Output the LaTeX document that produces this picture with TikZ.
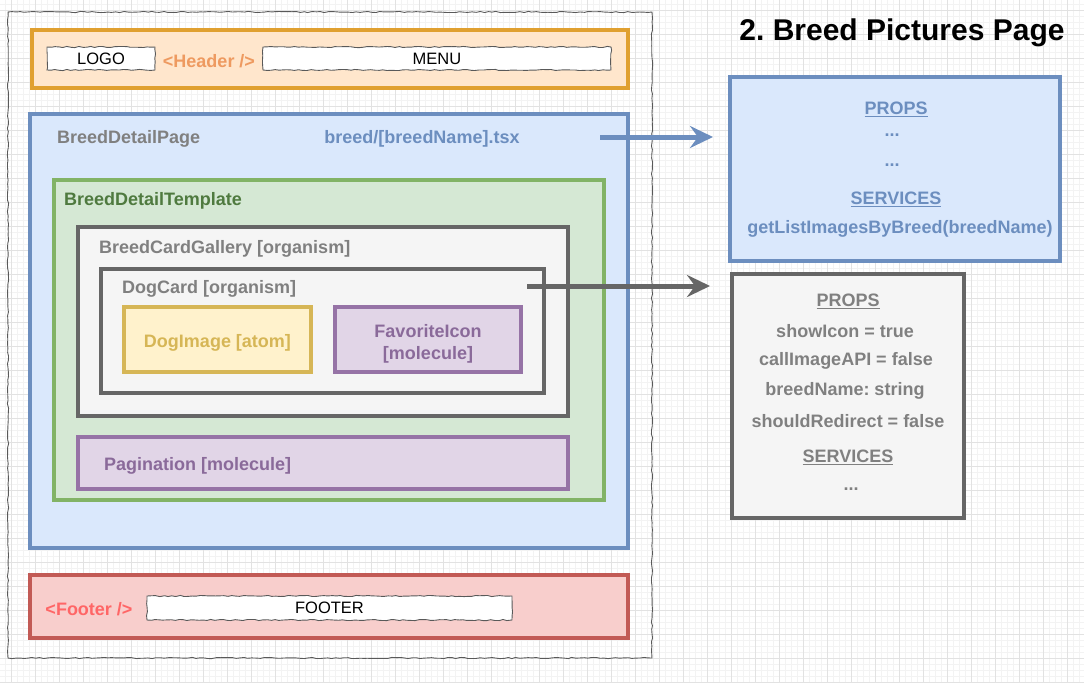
\documentclass[tikz,border=0pt]{standalone}
\usepackage{fontspec}
\setmainfont{Liberation Sans}
\frenchspacing
\usetikzlibrary{arrows.meta,positioning,decorations.pathmorphing}
\definecolor{gridmin}{HTML}{F3F3F3}
\definecolor{gridmaj}{HTML}{E2E2E2}
\definecolor{orangeline}{HTML}{E0A030}
\definecolor{orangefill}{HTML}{FFE6CC}
\definecolor{orangetext}{HTML}{EE9A60}
\definecolor{blueline}{HTML}{6C8EBF}
\definecolor{bluefill}{HTML}{DAE8FC}
\definecolor{greenline}{HTML}{82B366}
\definecolor{greenfill}{HTML}{D5E8D4}
\definecolor{greentext}{HTML}{4F7A3F}
\definecolor{grayline}{HTML}{666666}
\definecolor{grayfill}{HTML}{F5F5F5}
\definecolor{graytext}{HTML}{808080}
\definecolor{yellowline}{HTML}{D6B656}
\definecolor{yellowfill}{HTML}{FFF2CC}
\definecolor{purpleline}{HTML}{9673A6}
\definecolor{purplefill}{HTML}{E1D5E7}
\definecolor{purpletext}{HTML}{8A6A9A}
\definecolor{redline}{HTML}{C25A55}
\definecolor{redfill}{HTML}{F8CECC}
\definecolor{redtext}{HTML}{FF6666}
\tikzstyle{gridminor} = [draw=gridmin, line width=0.8pt]
\tikzstyle{gridmajor} = [draw=gridmaj, line width=1pt]
\tikzstyle{box} = [draw, rectangle, line width=4pt, inner sep=0pt]
\tikzstyle{sketchy} = [draw=black!65, rectangle, line width=0.9pt, inner sep=0pt, decorate, decoration={random steps, segment length=4pt, amplitude=0.6pt}]
\tikzstyle{lbl} = [font=\fontsize{18}{22}\selectfont\bfseries, inner sep=0pt, yshift=-2pt]
\tikzstyle{plain} = [font=\fontsize{16.5}{20}\selectfont, inner sep=0pt]
\tikzstyle{flow} = [line width=5pt, -{Stealth[length=23pt, width=22pt, inset=8pt]}]

\begin{document}
\begin{tikzpicture}[x=1pt, y=-1pt]
      \useasboundingbox[fill=white] (0,0) rectangle (1084,683);
      % background grid
      \foreach \x in {5,11,...,1084} \draw[gridminor] (\x,0) -- (\x,683);
      \foreach \y in {4,10,...,683} \draw[gridminor] (0,\y) -- (1084,\y);
      \foreach \x in {11,35,...,1084} \draw[gridmajor] (\x,0) -- (\x,683);
      \foreach \y in {10,34,...,683} \draw[gridmajor] (0,\y) -- (1084,\y);
      % page
      \node[sketchy, minimum width=644, minimum height=646] (page) at (330,335) {};
      \node[box, draw=orangeline, fill=orangefill, minimum width=596, minimum height=58] (header) at (330,59) {};
      \node[sketchy, fill=white, minimum width=108, minimum height=23, plain] (logo) at (101,58.5) {LOGO};
      \node[lbl, text=orangetext] (headertag) at (209,59) {<Header />};
      \node[sketchy, fill=white, minimum width=348, minimum height=23, plain] (menu) at (437,58.5) {MENU};
      \node[box, draw=blueline, fill=bluefill, minimum width=598, minimum height=434] (detailpage) at (329,331) {};
      \node[lbl, text=graytext, anchor=west] (detailname) at (57,137) {BreedDetailPage};
      \node[lbl, text=blueline] (detailfile) at (422,137) {breed/[breedName].tsx};
      \node[box, draw=greenline, fill=greenfill, minimum width=550, minimum height=320] (template) at (329,340) {};
      \node[lbl, text=greentext, anchor=west] (templatename) at (64,199) {BreedDetailTemplate};
      \node[box, draw=grayline, fill=grayfill, minimum width=490, minimum height=189] (gallery) at (323,321.5) {};
      \node[lbl, text=graytext, anchor=west] (galleryname) at (99,247) {BreedCardGallery [organism]};
      \node[box, draw=grayline, fill=grayfill, minimum width=443, minimum height=124] (dogcard) at (322.5,331) {};
      \node[lbl, text=graytext, anchor=west] (dogcardname) at (122,287) {DogCard [organism]};
      \node[box, draw=yellowline, fill=yellowfill, minimum width=187, minimum height=65] (dogimage) at (217.5,339.5) {};
      \node[lbl, text=yellowline] (dogimagename) at (217.5,341) {DogImage [atom]};
      \node[box, draw=purpleline, fill=purplefill, minimum width=186, minimum height=65] (favicon) at (428,339.5) {};
      \node[lbl, text=purpletext, align=center] (faviconname) at (428,341.5) {FavoriteIcon\\\relax [molecule]};
      \node[box, draw=purpleline, fill=purplefill, minimum width=490, minimum height=52] (pagination) at (323,463) {};
      \node[lbl, text=purpletext, anchor=west] (paginationname) at (104,464) {Pagination [molecule]};
      \node[box, draw=redline, fill=redfill, minimum width=598, minimum height=63] (footer) at (329,606.5) {};
      \node[lbl, text=redtext] (footertag) at (89,607) {<Footer />};
      \node[sketchy, fill=white, minimum width=365, minimum height=24, plain] (footerbar) at (329.5,608) {FOOTER};
      % right side
      \node[font=\fontsize{30}{34}\selectfont\bfseries, inner sep=0pt] (title) at (902,33) {2. Breed Pictures Page};
      \node[box, draw=blueline, fill=bluefill, minimum width=330, minimum height=184] (pageprops) at (895,169) {};
      \node[lbl, text=blueline] (pp1) at (896,107) {\underline{PROPS}};
      \node[lbl, text=blueline] (pp2) at (892,133) {...};
      \node[lbl, text=blueline] (pp3) at (892,163) {...};
      \node[lbl, text=blueline] (pp4) at (896,197) {\underline{SERVICES}};
      \node[lbl, text=blueline] (pp5) at (900,227) {getListImagesByBreed(breedName)};
      \node[box, draw=grayline, fill=grayfill, minimum width=232, minimum height=244] (cardprops) at (848,396) {};
      \node[lbl, text=graytext] (cp1) at (848,299) {\underline{PROPS}};
      \node[lbl, text=graytext] (cp2) at (845,329) {showIcon = true};
      \node[lbl, text=graytext] (cp3) at (846,359) {callImageAPI = false};
      \node[lbl, text=graytext] (cp4) at (845,389) {breedName: string};
      \node[lbl, text=graytext] (cp5) at (848,419) {shouldRedirect = false};
      \node[lbl, text=graytext] (cp6) at (848,455) {\underline{SERVICES}};
      \node[lbl, text=graytext] (cp7) at (851,487) {...};
      % connectors
      \coordinate (pagesrc) at (600,137);
      \coordinate (cardsrc) at (527,286);
      \draw[flow, draw=blueline, shorten >=15pt] (pagesrc) -- (pagesrc -| pageprops.west);
      \draw[flow, draw=grayline, shorten >=20pt] (cardsrc) -- (cardsrc -| cardprops.west);
\end{tikzpicture}
\end{document}
